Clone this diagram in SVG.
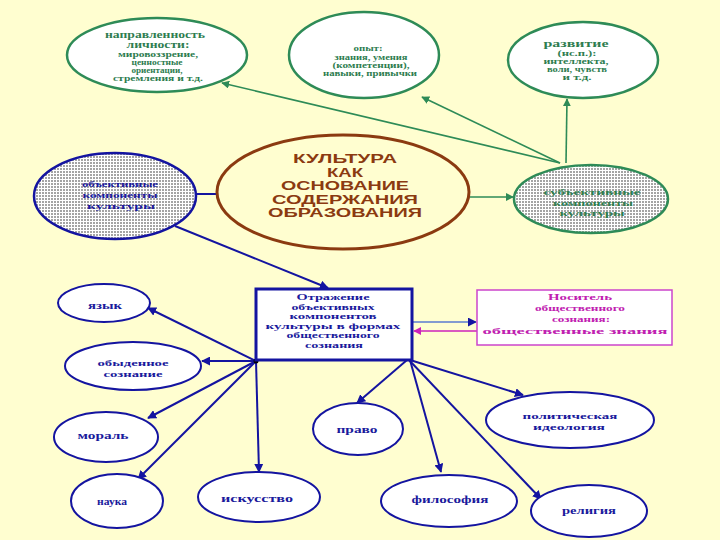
<svg xmlns="http://www.w3.org/2000/svg" width="720" height="540" viewBox="0 0 720 540">
<defs>
<pattern id="grid" width="3" height="3" patternUnits="userSpaceOnUse"><rect width="3" height="3" fill="#ffffff"/><rect width="2" height="2" fill="#a4a4a4"/></pattern>
<marker id="ab" viewBox="0 0 10 10" refX="9" refY="5" markerWidth="9" markerHeight="9" markerUnits="userSpaceOnUse" orient="auto"><path d="M0,0 L10,5 L0,10 Z" fill="#1414A0"/></marker>
<marker id="ag" viewBox="0 0 10 10" refX="9" refY="5" markerWidth="8" markerHeight="8" markerUnits="userSpaceOnUse" orient="auto"><path d="M0,0 L10,5 L0,10 Z" fill="#2E8B57"/></marker>
<marker id="am" viewBox="0 0 10 10" refX="9" refY="5" markerWidth="8" markerHeight="8" markerUnits="userSpaceOnUse" orient="auto"><path d="M0,0 L10,5 L0,10 Z" fill="#CC22BB"/></marker>
</defs>
<style>
.bg{fill:#FFFED0}
.ge{fill:#ffffff;stroke:#2E8B57;stroke-width:2.5}
.gp{fill:url(#grid);stroke:#2E8B57;stroke-width:2.5}
.bp{fill:url(#grid);stroke:#1414A0;stroke-width:2.5}
.be{fill:#ffffff;stroke:#1414A0;stroke-width:2}
.ce{fill:#FFFED0;stroke:#8B3A10;stroke-width:3}
.g,.b,.m{font-family:"Liberation Serif","Times New Roman",serif;font-weight:bold;text-anchor:middle;font-size:10px}
.g{fill:#2E7D4F}
.b{fill:#1A1A9C}
.m{fill:#C020B0}
.s{font-size:8px}
.t{font-size:9px}
.c{font-family:"Liberation Sans",Arial,sans-serif;font-weight:bold;font-size:13px;fill:#8B3A10;text-anchor:middle}
.lg{stroke:#2E8B57;stroke-width:1.6;fill:none}
.lb{stroke:#1414A0;stroke-width:2;fill:none}
</style>
<rect class="bg" x="0" y="0" width="720" height="540"/>

<g id="connectors">
<line class="lg" x1="560" y1="163" x2="222" y2="83" marker-end="url(#ag)"/>
<line class="lg" x1="560" y1="163" x2="422" y2="97" marker-end="url(#ag)"/>
<line class="lg" x1="566" y1="163" x2="567" y2="99" marker-end="url(#ag)"/>
<line class="lg" x1="470" y1="197" x2="513" y2="197" marker-end="url(#ag)"/>
<line class="lb" x1="195" y1="194" x2="218" y2="194" stroke-width="3"/>
<line class="lb" x1="175" y1="226" x2="328" y2="288" marker-end="url(#ab)"/>
<line class="lb" x1="256" y1="361" x2="148" y2="308" marker-end="url(#ab)"/>
<line class="lb" x1="256" y1="361" x2="202" y2="361" marker-end="url(#ab)"/>
<line class="lb" x1="256" y1="361" x2="148" y2="418" marker-end="url(#ab)"/>
<line class="lb" x1="256" y1="361" x2="138" y2="479" marker-end="url(#ab)"/>
<line class="lb" x1="256" y1="361" x2="259" y2="472" marker-end="url(#ab)"/>
<line class="lb" x1="407" y1="360" x2="357" y2="403" marker-end="url(#ab)"/>
<line class="lb" x1="410" y1="360" x2="523" y2="395" marker-end="url(#ab)"/>
<line class="lb" x1="410" y1="360" x2="441" y2="472" marker-end="url(#ab)"/>
<line class="lb" x1="409" y1="360" x2="541" y2="499" marker-end="url(#ab)"/>
<line stroke="#5a7ad0" stroke-width="1.5" x1="413" y1="322" x2="476" y2="322" marker-end="url(#ab)"/>
<line stroke="#CC22BB" stroke-width="1.6" x1="477" y1="331" x2="414" y2="331" marker-end="url(#am)"/>
<circle cx="256" cy="361" r="2.5" fill="#000"/>
</g>

<g id="napravlennost">
<ellipse class="ge" cx="157" cy="55" rx="90" ry="37"/>
<text class="g" x="155" y="38" textLength="100" lengthAdjust="spacingAndGlyphs">направленность</text>
<text class="g" x="158" y="48" textLength="63" lengthAdjust="spacingAndGlyphs">личности:</text>
<text class="g s" x="158" y="57" textLength="80" lengthAdjust="spacingAndGlyphs">мировоззрение,</text>
<text class="g s" x="157" y="65" textLength="51" lengthAdjust="spacingAndGlyphs">ценностные</text>
<text class="g s" x="157" y="73" textLength="51" lengthAdjust="spacingAndGlyphs">ориентации,</text>
<text class="g s" x="158" y="81" textLength="90" lengthAdjust="spacingAndGlyphs">стремления и т.д.</text>
</g>

<g id="opyt">
<ellipse class="ge" cx="364" cy="55" rx="75" ry="43"/>
<text class="g t" x="368" y="51" textLength="29" lengthAdjust="spacingAndGlyphs">опыт:</text>
<text class="g s" x="371" y="60" textLength="73" lengthAdjust="spacingAndGlyphs">знания, умения</text>
<text class="g s" x="371" y="68" textLength="77" lengthAdjust="spacingAndGlyphs">(компетенции),</text>
<text class="g s" x="370" y="76" textLength="94" lengthAdjust="spacingAndGlyphs">навыки, привычки</text>
</g>

<g id="razvitie">
<ellipse class="ge" cx="583" cy="60" rx="75" ry="38"/>
<text class="g" x="576" y="47" textLength="65" lengthAdjust="spacingAndGlyphs">развитие</text>
<text class="g s" x="577" y="56" textLength="39" lengthAdjust="spacingAndGlyphs">(нс.п.):</text>
<text class="g s" x="576" y="64" textLength="65" lengthAdjust="spacingAndGlyphs">интеллекта,</text>
<text class="g s" x="577" y="72" textLength="60" lengthAdjust="spacingAndGlyphs">воли, чувств</text>
<text class="g s" x="577" y="80" textLength="29" lengthAdjust="spacingAndGlyphs">и т.д.</text>
</g>

<g id="kultura">
<ellipse class="ce" cx="343" cy="192" rx="126" ry="57"/>
<text class="c" x="345" y="163" textLength="104" lengthAdjust="spacingAndGlyphs">КУЛЬТУРА</text>
<text class="c" x="345" y="176.5" textLength="36" lengthAdjust="spacingAndGlyphs">КАК</text>
<text class="c" x="345" y="190" textLength="128" lengthAdjust="spacingAndGlyphs">ОСНОВАНИЕ</text>
<text class="c" x="345" y="203.5" textLength="146" lengthAdjust="spacingAndGlyphs">СОДЕРЖАНИЯ</text>
<text class="c" x="345" y="217" textLength="154" lengthAdjust="spacingAndGlyphs">ОБРАЗОВАНИЯ</text>
</g>

<g id="obj">
<ellipse class="bp" cx="115" cy="196" rx="81" ry="43"/>
<text class="b t" x="120" y="187" textLength="76" lengthAdjust="spacingAndGlyphs">объективные</text>
<text class="b t" x="120" y="198" textLength="75" lengthAdjust="spacingAndGlyphs">компоненты</text>
<text class="b t" x="121" y="209" textLength="68" lengthAdjust="spacingAndGlyphs">культуры</text>
</g>

<g id="subj">
<ellipse class="gp" cx="591" cy="199" rx="77" ry="34"/>
<text class="g t" x="592" y="195" textLength="97" lengthAdjust="spacingAndGlyphs">субъективные</text>
<text class="g t" x="593" y="205.5" textLength="80" lengthAdjust="spacingAndGlyphs">компоненты</text>
<text class="g t" x="592" y="216" textLength="65" lengthAdjust="spacingAndGlyphs">культуры</text>
</g>

<g id="otrazhenie">
<rect x="256" y="289" width="156" height="71" fill="#ffffff" stroke="#1414A0" stroke-width="3"/>
<text class="b s" x="333" y="300" textLength="73" lengthAdjust="spacingAndGlyphs">Отражение</text>
<text class="b s" x="333" y="309.5" textLength="83" lengthAdjust="spacingAndGlyphs">объективных</text>
<text class="b s" x="333" y="319" textLength="87" lengthAdjust="spacingAndGlyphs">компонентов</text>
<text class="b s" x="333" y="328.5" textLength="135" lengthAdjust="spacingAndGlyphs">культуры в формах</text>
<text class="b s" x="333" y="338" textLength="93" lengthAdjust="spacingAndGlyphs">общественного</text>
<text class="b s" x="334" y="347.5" textLength="58" lengthAdjust="spacingAndGlyphs">сознания</text>
</g>

<g id="nositel">
<rect x="477" y="290" width="195" height="55" fill="#ffffff" stroke="#CC44CC" stroke-width="1.5"/>
<text class="m t" x="580" y="300" textLength="64" lengthAdjust="spacingAndGlyphs">Носитель</text>
<text class="m t" x="580" y="311" textLength="90" lengthAdjust="spacingAndGlyphs">общественного</text>
<text class="m t" x="581" y="322" textLength="58" lengthAdjust="spacingAndGlyphs">сознания:</text>
<text class="m t" x="575" y="334" textLength="185" lengthAdjust="spacingAndGlyphs">общественные знания</text>
</g>

<g id="yazyk">
<ellipse class="be" cx="104" cy="303" rx="46" ry="19"/>
<text class="b" x="105" y="309" textLength="34" lengthAdjust="spacingAndGlyphs">язык</text>
</g>
<g id="obydennoe">
<ellipse class="be" cx="133" cy="366" rx="68" ry="24"/>
<text class="b t" x="133" y="366" textLength="71" lengthAdjust="spacingAndGlyphs">обыденное</text>
<text class="b t" x="133" y="377" textLength="59" lengthAdjust="spacingAndGlyphs">сознание</text>
</g>
<g id="moral">
<ellipse class="be" cx="106" cy="437" rx="52" ry="25"/>
<text class="b" x="103" y="439" textLength="51" lengthAdjust="spacingAndGlyphs">мораль</text>
</g>
<g id="nauka">
<ellipse class="be" cx="117" cy="501" rx="46" ry="27"/>
<text class="b" x="112" y="505" textLength="30" lengthAdjust="spacingAndGlyphs">наука</text>
</g>
<g id="iskusstvo">
<ellipse class="be" cx="259" cy="497" rx="61" ry="25"/>
<text class="b" x="257" y="502" textLength="72" lengthAdjust="spacingAndGlyphs">искусство</text>
</g>
<g id="pravo">
<ellipse class="be" cx="358" cy="429" rx="45" ry="26"/>
<text class="b" x="357" y="433" textLength="41" lengthAdjust="spacingAndGlyphs">право</text>
</g>
<g id="politicheskaya">
<ellipse class="be" cx="570" cy="420" rx="84" ry="28"/>
<text class="b t" x="570" y="419" textLength="95" lengthAdjust="spacingAndGlyphs">политическая</text>
<text class="b t" x="569" y="430" textLength="72" lengthAdjust="spacingAndGlyphs">идеология</text>
</g>
<g id="filosofiya">
<ellipse class="be" cx="449" cy="501" rx="68" ry="26"/>
<text class="b" x="450" y="503" textLength="77" lengthAdjust="spacingAndGlyphs">философия</text>
</g>
<g id="religiya">
<ellipse class="be" cx="589" cy="511" rx="58" ry="26"/>
<text class="b" x="589" y="514" textLength="54" lengthAdjust="spacingAndGlyphs">религия</text>
</g>
</svg>
